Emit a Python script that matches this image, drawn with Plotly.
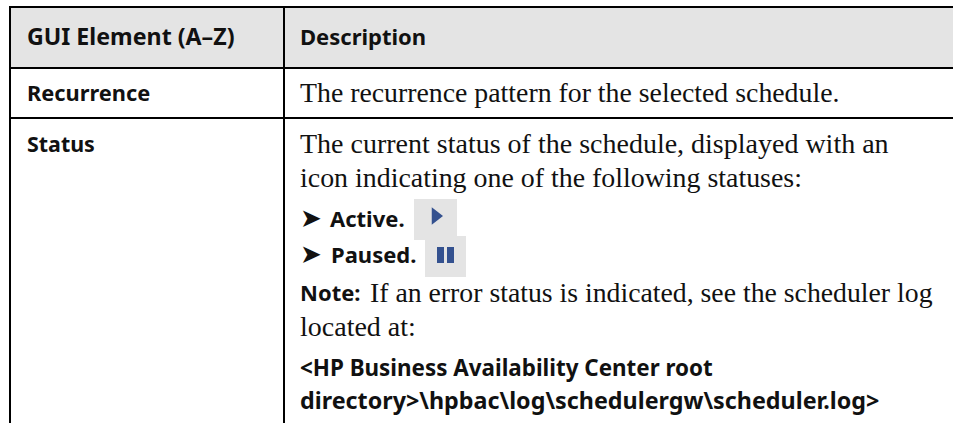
import plotly.graph_objects as go

HEADERS = ["GUI Element (A–Z)", "Description"]
ROW_NAMES = ["Recurrence", "Status"]
RECURRENCE_TEXT = "The recurrence pattern for the selected schedule."
STATUS_LINES = ["The current status of the schedule, displayed with an",
                "icon indicating one of the following statuses:"]
BULLETS = ["Active.", "Paused."]
NOTE_LABEL = "Note:"
NOTE_LINES = ["If an error status is indicated, see the scheduler log", "located at:"]
PATH_LINES = ["<HP Business Availability Center root",
              "directory>\\hpbac\\log\\schedulergw\\scheduler.log>"]

SANS = "Noto Sans"
SERIF = "Liberation Serif"
INK = "#111111"
fig = go.Figure()
shapes, ann = [], []

def rect(x0, y0, x1, y1, color):
    shapes.append(dict(type="rect", x0=x0, x1=x1, y0=y0, y1=y1, fillcolor=color,
                       line=dict(width=0), layer="below"))

def text(x, y, s, font, size, bold=False):
    ann.append(dict(x=x, y=y, text=f"<b>{s}</b>" if bold else s, showarrow=False,
                    xanchor="left", yanchor="middle", borderpad=0, borderwidth=0,
                    font=dict(family=font, size=size, color=INK)))

esc = lambda s: s.replace("<", "&lt;").replace(">", "&gt;")

rect(10, 7, 953, 68, "#e4e4e4")
rect(414, 199, 457, 240, "#e4e4e4")
rect(425, 236, 466, 277, "#e4e4e4")
rect(9, 6, 953, 8, "#000000")
rect(9, 67, 953, 69, "#000000")
rect(9, 117, 953, 119, "#000000")
rect(9, 6, 11, 423, "#000000")
rect(283, 6, 285, 423, "#000000")
rect(437, 247, 444, 263, "#34518f")
rect(447, 247, 454, 263, "#34518f")

text(27, 36, HEADERS[0], SANS, 23.2, True)
text(300, 36, HEADERS[1], SANS, 22, True)
text(27, 92, ROW_NAMES[0], SANS, 21.8, True)
text(27, 143, ROW_NAMES[1], SANS, 21.4, True)
text(300, 92, RECURRENCE_TEXT, SERIF, 27.8)
text(300, 143, STATUS_LINES[0], SERIF, 28)
text(300, 177, STATUS_LINES[1], SERIF, 27.9)
text(300, 218, "➤", "DejaVu Sans", 26)
text(300, 254, "➤", "DejaVu Sans", 26)
text(330, 218, BULLETS[0], SANS, 22, True)
text(331, 254, BULLETS[1], SANS, 22, True)
text(300, 292, NOTE_LABEL, SANS, 22, True)
text(370, 292, NOTE_LINES[0], SERIF, 27.75)
text(300, 326, NOTE_LINES[1], SERIF, 28)
text(300, 367, esc(PATH_LINES[0]), SANS, 22.4, True)
text(300, 400, esc(PATH_LINES[1]), SANS, 23.3, True)

fig.add_trace(go.Scatter(x=[435.5], y=[216], mode="markers", hoverinfo="skip",
                         marker=dict(symbol="triangle-right", size=15, color="#34518f")))

fig.update_layout(
    width=953, height=423, margin=dict(l=0, r=0, t=0, b=0), autosize=False,
    paper_bgcolor="white", plot_bgcolor="white", showlegend=False,
    xaxis=dict(range=[0, 953], visible=False, fixedrange=True),
    yaxis=dict(range=[423, 0], visible=False, fixedrange=True),
    shapes=shapes, annotations=ann,
)
fig.write_html("out.html", config=dict(displayModeBar=False),
               post_script="document.body.style.margin='0';document.body.style.overflow='hidden';")
